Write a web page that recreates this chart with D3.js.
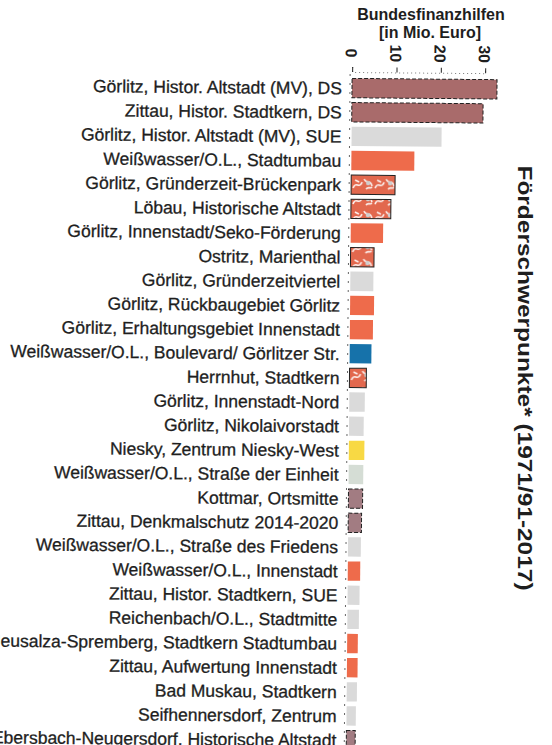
<!DOCTYPE html>
<html lang="de">
  <head>
    <meta charset="utf-8"/>
    <title>Förderschwerpunkte</title>
    <script src="https://cdn.jsdelivr.net/npm/d3@7"></script>
    <style>
      body { margin: 0; background: #fff; }
      text { font-family: "Liberation Sans", Arial, sans-serif; }
    </style>
  </head>
  <body>
    <div id="chart"></div>
    <script type="text/javascript">

      // Gebiete (top to bottom)
      var categories = [
        "Görlitz, Histor. Altstadt (MV), DS",
        "Zittau, Histor. Stadtkern, DS",
        "Görlitz, Histor. Altstadt (MV), SUE",
        "Weißwasser/O.L., Stadtumbau",
        "Görlitz, Gründerzeit-Brückenpark",
        "Löbau, Historische Altstadt",
        "Görlitz, Innenstadt/Seko-Förderung",
        "Ostritz, Marienthal",
        "Görlitz, Gründerzeitviertel",
        "Görlitz, Rückbaugebiet Görlitz",
        "Görlitz, Erhaltungsgebiet Innenstadt",
        "Weißwasser/O.L., Boulevard/ Görlitzer Str.",
        "Herrnhut, Stadtkern",
        "Görlitz, Innenstadt-Nord",
        "Görlitz, Nikolaivorstadt",
        "Niesky, Zentrum Niesky-West",
        "Weißwasser/O.L., Straße der Einheit",
        "Kottmar, Ortsmitte",
        "Zittau, Denkmalschutz 2014-2020",
        "Weißwasser/O.L., Straße des Friedens",
        "Weißwasser/O.L., Innenstadt",
        "Zittau, Histor. Stadtkern, SUE",
        "Reichenbach/O.L., Stadtmitte",
        "Neusalza-Spremberg, Stadtkern Stadtumbau",
        "Zittau, Aufwertung Innenstadt",
        "Bad Muskau, Stadtkern",
        "Seifhennersdorf, Zentrum",
        "Ebersbach-Neugersdorf, Historische Altstadt"
      ];

      // Bundesfinanzhilfen in Mio. Euro
      var values = [32.7, 29.6, 20.3, 14.2, 9.9, 9.0, 7.3, 5.3, 5.2, 5.4, 5.2, 4.9, 3.8, 3.5,
                    3.3, 3.5, 3.3, 3.2, 3.0, 2.9, 2.8, 2.7, 2.6, 2.4, 2.4, 2.3, 2.1, 2.0];

      // Programm per bar
      var programs = ["ds", "ds", "sue", "su", "suHatch", "suHatch", "su", "suHatch", "sue", "su",
                      "su", "ss", "suHatch", "sue", "sue", "asz", "other", "ds2", "ds2", "sue",
                      "su", "sue", "sue", "su", "su", "sue", "sue", "ds2"];

      var xTicks = [0, 10, 20, 30];

      var fills = {
        ds: "#a96b6b", ds2: "#a27c82", sue: "#dadada", su: "#ee6b4b",
        suHatch: "url(#hatch)", ss: "#1672aa", asz: "#f8d944", other: "#d5ddd5"
      };

      var w = 552, h = 745;

      var svg = d3.select("#chart")
        .append("svg")
        .attr("width", w)
        .attr("height", h)
      ;

      // orange fill with white scribbles (scanned texture)
      var pat = svg.append("defs").append("pattern")
        .attr("id", "hatch")
        .attr("patternUnits", "userSpaceOnUse")
        .attr("width", 22)
        .attr("height", 16)
      ;
      pat.append("rect").attr("width", 22).attr("height", 16).attr("fill", "#e2684e");
      pat.append("path")
        .attr("d", "M2,12 C5,4 8,14 11,6 M13,3 C16,9 19,2 21,10 M4,4 l4,2 M15,13 c2,-3 4,0 6,-2")
        .attr("fill", "none")
        .attr("stroke", "#fff")
        .attr("stroke-width", 1.6)
        .attr("opacity", 0.9)
      ;
      pat.append("circle").attr("cx", 17).attr("cy", 7).attr("r", 2.2).attr("fill", "#cfcfcf");

      var x = d3.scaleLinear()
        .domain([0, 30])
        .range([352, 485])
      ;

      var y = d3.scaleBand()
        .domain(categories)
        .range([76, 76 + 28 * 24.15])
        .paddingInner(0.2)
        .paddingOuter(0.1)
      ;

      // header
      svg.append("text")
        .attr("x", 431).attr("y", 20)
        .attr("text-anchor", "middle")
        .style("font-size", "16px").style("font-weight", "bold").attr("fill", "#1e1e1e")
        .text("Bundesfinanzhilfen");
      svg.append("text")
        .attr("x", 430).attr("y", 38)
        .attr("text-anchor", "middle")
        .style("font-size", "16px").style("font-weight", "bold").attr("fill", "#1e1e1e")
        .text("[in Mio. Euro]");

      // title on the right, reading top to bottom
      svg.append("text")
        .attr("transform", "translate(525,378) rotate(90)")
        .attr("text-anchor", "middle")
        .attr("dominant-baseline", "central")
        .attr("textLength", 425)
        .attr("lengthAdjust", "spacingAndGlyphs")
        .style("font-size", "21px").style("font-weight", "bold").attr("fill", "#1e1e1e")
        .text("Förderschwerpunkte* (1971/91-2017)");

      // the scan is slightly tilted
      var chart = svg.append("g").attr("transform", "rotate(0.5,352,88)");

      // top axis
      var axis = chart.append("g")
        .attr("transform", "translate(0,72)")
        .call(d3.axisTop(x).tickValues(xTicks).tickSize(5).tickFormat(""))
      ;
      axis.select(".domain").attr("stroke", "#777").attr("stroke-dasharray", "1,3");
      axis.selectAll(".tick line").attr("stroke", "#222");

      chart.selectAll(".xlab")
        .data(xTicks)
        .enter()
        .append("text")
        .attr("class", "xlab")
        .attr("transform", function(d) { return "translate(" + (x(d) - 1) + ",53) rotate(90)"; })
        .attr("text-anchor", "middle")
        .attr("dominant-baseline", "central")
        .style("font-size", "16px").style("font-weight", "bold").attr("fill", "#1e1e1e")
        .text(function(d) { return d; })
      ;

      // left axis line
      chart.append("line")
        .attr("x1", x(0) - 2).attr("x2", x(0) - 2)
        .attr("y1", 74).attr("y2", h + 10)
        .attr("stroke", "#666").attr("stroke-dasharray", "2,7")
      ;

      // bars
      chart.selectAll(".bar")
        .data(values)
        .enter()
        .append("rect")
        .attr("class", "bar")
        .attr("x", x(0))
        .attr("y", function(d, i) { return y(categories[i]); })
        .attr("width", function(d) { return x(d) - x(0); })
        .attr("height", y.bandwidth())
        .attr("fill", function(d, i) { return fills[programs[i]]; })
        .attr("stroke", function(d, i) {
          var p = programs[i];
          return (p == "ds" || p == "ds2" || p == "suHatch") ? "#222" : "none";
        })
        .attr("stroke-width", 1)
        .attr("stroke-dasharray", function(d, i) { return programs[i] == "suHatch" ? null : "4,2"; })
      ;

      // labels
      chart.selectAll(".label")
        .data(categories)
        .enter()
        .append("text")
        .attr("class", "label")
        .attr("x", 342)
        .attr("y", function(d) { return y(d) + y.bandwidth() / 2; })
        .attr("dy", "0.36em")
        .attr("text-anchor", "end")
        .style("font-size", "17.5px")
        .attr("fill", "#1e1e1e")
        .attr("stroke", "#1e1e1e")
        .attr("stroke-width", 0.3)
        .text(function(d) { return d; })
      ;
    </script>
  </body>
</html>
